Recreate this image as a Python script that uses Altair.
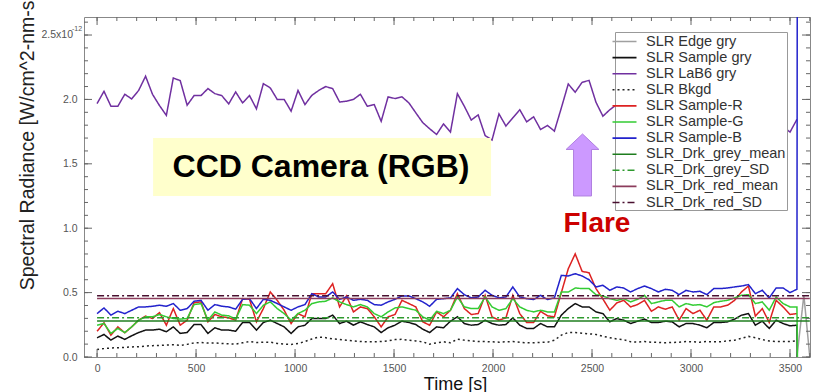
import altair as alt
import pandas as pd

# ---------------- data ----------------
T_STEP = 35
times = [T_STEP * k for k in range(102)]

lab6 = [1.968, 2.063, 1.947, 1.947, 2.04, 2.004, 2.07, 2.18, 2.04, 1.953,
        1.876, 2.166, 2.146, 1.955, 2.03, 2.03, 2.084, 2.045, 2.03, 1.965,
        2.058, 1.973, 2.03, 1.927, 2.123, 2.089, 2.0, 2.0, 1.909, 2.07,
        1.96, 2.032, 2.07, 2.10, 2.084, 1.98, 1.986, 2.0, 2.04, 1.947,
        1.96, 1.83, 2.02, 2.007, 2.02, 1.973, 1.896, 1.82, 1.772, 1.728,
        1.81, 1.746,
        2.045, 1.947, 1.84, 1.88, 1.72, 1.685, 1.888, 1.793, 1.857, 1.92,
        1.826, 1.865, 1.767, 1.798, 1.754, 1.934, 2.12, 2.056, 2.133, 2.148,
        1.978, 1.87, 1.92,
        1.96, 1.98, 2.0, 1.96, 1.93, 1.99, 2.02, 1.97, 1.94, 1.98,
        2.01, 1.96, 1.92, 1.95, 1.99, 1.97, 1.93, 1.9, 1.94, 1.97,
        1.92, 1.88, 1.85, 1.82, 1.79,
        1.746, 1.845]

sample_b = [0.337, 0.381, 0.325, 0.355, 0.337, 0.363, 0.389, 0.389, 0.394, 0.402,
            0.394, 0.415, 0.363, 0.376, 0.433, 0.44, 0.363, 0.407, 0.394, 0.389,
            0.371, 0.448, 0.453, 0.376, 0.448,
            0.44, 0.415, 0.389, 0.363, 0.389, 0.407, 0.492, 0.466, 0.466, 0.505,
            0.448, 0.466, 0.44, 0.448, 0.44, 0.407, 0.402, 0.428, 0.448, 0.474,
            0.474, 0.453, 0.428, 0.394, 0.448, 0.453,
            0.459, 0.531, 0.484, 0.459, 0.466, 0.518, 0.479, 0.459, 0.466, 0.544,
            0.466, 0.453, 0.446, 0.479, 0.446, 0.459, 0.634, 0.629, 0.647, 0.629,
            0.6, 0.544, 0.557, 0.518, 0.544,
            0.536, 0.505, 0.531, 0.551, 0.531, 0.505, 0.526, 0.518, 0.484, 0.518,
            0.505, 0.51, 0.484, 0.531, 0.531, 0.536, 0.544, 0.551, 0.562, 0.492,
            0.518, 0.459, 0.536, 0.536, 0.5, 0.526]

sample_r = [0.2, 0.265, 0.17, 0.234, 0.188, 0.234, 0.286, 0.317, 0.299, 0.345,
            0.247, 0.376, 0.247, 0.286, 0.422, 0.428, 0.273, 0.33, 0.312, 0.304,
            0.286, 0.453, 0.448, 0.273, 0.376,
            0.505, 0.44, 0.363, 0.26, 0.337, 0.312, 0.492, 0.492, 0.492, 0.569,
            0.389, 0.474, 0.35, 0.389, 0.376, 0.312, 0.234, 0.312, 0.33, 0.44,
            0.415, 0.389, 0.273, 0.247, 0.35, 0.312,
            0.363, 0.492, 0.376, 0.33, 0.337, 0.479, 0.312, 0.286, 0.304, 0.479,
            0.337, 0.268, 0.268, 0.355, 0.32, 0.312, 0.5, 0.685, 0.801, 0.665,
            0.654, 0.531, 0.45, 0.363, 0.42,
            0.44, 0.389, 0.407, 0.44, 0.355, 0.389, 0.371, 0.389, 0.286, 0.376,
            0.337, 0.363, 0.286, 0.389, 0.389, 0.402, 0.44, 0.505, 0.551, 0.317,
            0.376, 0.268, 0.44, 0.389, 0.33, 0.337]

sample_g = [0.247, 0.26, 0.183, 0.222, 0.19, 0.234, 0.286, 0.312, 0.312, 0.33,
            0.312, 0.299, 0.294, 0.299, 0.407, 0.415, 0.286, 0.35, 0.325, 0.32,
            0.294, 0.407, 0.402, 0.337, 0.402,
            0.428, 0.376, 0.337, 0.286, 0.337, 0.363, 0.415, 0.428, 0.433, 0.459,
            0.428, 0.407, 0.389, 0.407, 0.389, 0.337, 0.312, 0.35, 0.381, 0.389,
            0.376, 0.363, 0.312, 0.286, 0.355, 0.337,
            0.363, 0.466, 0.389, 0.376, 0.376, 0.466, 0.389, 0.363, 0.376, 0.453,
            0.389, 0.363, 0.35, 0.363, 0.35, 0.35, 0.505, 0.505, 0.536, 0.531,
            0.531, 0.484, 0.474, 0.453, 0.44,
            0.453, 0.428, 0.448, 0.479, 0.415, 0.428, 0.44, 0.44, 0.389, 0.415,
            0.402, 0.407, 0.389, 0.422, 0.433, 0.44, 0.459, 0.479, 0.484, 0.415,
            0.428, 0.363, 0.466, 0.415, 0.389, 0.389]

sample_gry = [0.149, 0.175, 0.131, 0.162, 0.137, 0.165, 0.19, 0.209, 0.209, 0.216,
              0.196, 0.234, 0.183, 0.19, 0.252, 0.252, 0.183, 0.227, 0.209, 0.209,
              0.2, 0.268, 0.268, 0.209, 0.268,
              0.286, 0.26, 0.234, 0.183, 0.234, 0.247, 0.299, 0.299, 0.299, 0.325,
              0.26, 0.278, 0.247, 0.273, 0.252, 0.234, 0.19, 0.227, 0.247, 0.278,
              0.268, 0.252, 0.216, 0.19, 0.234, 0.227,
              0.278, 0.312, 0.26, 0.247, 0.252, 0.286, 0.26, 0.247, 0.252, 0.304,
              0.247, 0.222, 0.222, 0.26, 0.234, 0.234, 0.325, 0.376, 0.415, 0.389,
              0.389, 0.35, 0.337, 0.273, 0.299,
              0.286, 0.26, 0.278, 0.294, 0.268, 0.268, 0.278, 0.273, 0.234, 0.26,
              0.26, 0.247, 0.227, 0.268, 0.268, 0.273, 0.294, 0.325, 0.337, 0.247,
              0.278, 0.222, 0.286, 0.26, 0.242, 0.247]

bkgd = [0.059, 0.065, 0.07, 0.072, 0.075, 0.078, 0.08, 0.085, 0.088, 0.09,
        0.093, 0.095, 0.09, 0.098, 0.11, 0.112, 0.108, 0.11, 0.105, 0.103,
        0.1, 0.11, 0.12, 0.112, 0.115,
        0.115, 0.105, 0.1, 0.098, 0.105, 0.12, 0.14, 0.155, 0.15, 0.14,
        0.137, 0.13, 0.125, 0.12, 0.118, 0.118, 0.12, 0.125, 0.135, 0.137,
        0.13, 0.125, 0.118, 0.1, 0.11, 0.118,
        0.11, 0.139, 0.131, 0.125, 0.12, 0.12, 0.118, 0.115, 0.118, 0.12,
        0.115, 0.11, 0.11, 0.113, 0.115, 0.13, 0.17, 0.19, 0.19, 0.185,
        0.18, 0.175, 0.16, 0.15, 0.14,
        0.135, 0.118, 0.115, 0.12, 0.115, 0.113, 0.11, 0.113, 0.115, 0.12,
        0.118, 0.115, 0.12, 0.118, 0.118, 0.125, 0.13, 0.145, 0.16, 0.15,
        0.135, 0.125, 0.12, 0.12, 0.12, 0.125]

# last readings (off scale) at the end of the run
end_t = 3570
sample_b_end = 50.0
sample_g_end = -5.0
sample_gry_end = -5.0

edge_t = [3535, 3570, 3600]
edge_v = [0.0, 0.48, 0.0]

const_t = [0, 3600]
drk_grey_mean = 0.28
drk_grey_sd = 0.305
drk_red_mean = 0.455
drk_red_sd = 0.475

names = ["SLR Edge gry", "SLR Sample gry", "SLR LaB6 gry", "SLR Bkgd",
         "SLR Sample-R", "SLR Sample-G", "SLR Sample-B",
         "SLR_Drk_grey_mean", "SLR_Drk_grey_SD", "SLR_Drk_red_mean", "SLR_Drk_red_SD"]
colors = ["#a0a0a0", "#111111", "#7030a0", "#222222",
          "#dd2222", "#33cc33", "#2222cc",
          "#1e7d1e", "#2e9a2e", "#8c3c5c", "#4a1030"]
dashes = [[1, 0], [1, 0], [1, 0], [2, 3],
          [1, 0], [1, 0], [1, 0],
          [1, 0], [7, 3, 2, 3], [1, 0], [7, 3, 2, 3]]

x_major = [0, 500, 1000, 1500, 2000, 2500, 3000, 3500]
x_minor = list(range(0, 3601, 100))
y_major = [0.0, 0.5, 1.0, 1.5, 2.0, 2.5]
y_minor = [round(0.1 * i, 1) for i in range(0, 27)]

for s in (lab6, sample_b, sample_r, sample_g, sample_gry, bkgd):
    assert len(s) == len(times), len(s)

# ---------------- long table ----------------
rows = []
def add(name, ts, vs):
    for i, (t, v) in enumerate(zip(ts, vs)):
        rows.append({"series": name, "t": t, "v": v, "i": i})

add("SLR Edge gry", edge_t, edge_v)
add("SLR Sample gry", times + [end_t], sample_gry + [sample_gry_end])
add("SLR LaB6 gry", times, lab6)
add("SLR Bkgd", times, bkgd)
add("SLR Sample-R", times, sample_r)
add("SLR Sample-G", times + [end_t], sample_g + [sample_g_end])
add("SLR Sample-B", times + [end_t], sample_b + [sample_b_end])
add("SLR_Drk_grey_mean", const_t, [drk_grey_mean] * 2)
add("SLR_Drk_grey_SD", const_t, [drk_grey_sd] * 2)
add("SLR_Drk_red_mean", const_t, [drk_red_mean] * 2)
add("SLR_Drk_red_SD", const_t, [drk_red_sd] * 2)
df = pd.DataFrame(rows)

FONT = "Liberation Sans"
W, H = 726, 340

xscale = alt.Scale(domain=[-66, 3601], nice=False, zero=False)
yscale = alt.Scale(domain=[0, 2.64], nice=False, zero=False)

legend = alt.Legend(orient="none", legendX=531, legendY=15,
                    symbolType="M-1.6,0 L1.6,0",
                    symbolSize=225, symbolStrokeWidth=1.6, labelFont=FONT,
                    labelFontSize=14.5, labelColor="#333333", labelLimit=300,
                    labelOffset=13, rowPadding=1.1, padding=1, fillColor="white",
                    strokeColor="#999999")

lines = alt.Chart(df).mark_line(clip=True, strokeWidth=1.5).encode(
    x=alt.X("t:Q", scale=xscale,
            axis=alt.Axis(values=x_major, format="d", ticks=False, tickSize=0,
                          domain=False, grid=False, labelFont=FONT,
                          labelFontSize=10.5, labelColor="#555555", labelPadding=6,
                          title="Time [s]", titleFont=FONT, titleFontSize=18,
                          titleFontWeight="normal", titleColor="#111111",
                          titleX=371, titleY=32, titleBaseline="alphabetic")),
    y=alt.Y("v:Q", scale=yscale,
            axis=alt.Axis(values=y_major, ticks=False, tickSize=0, domain=False,
                          grid=False, labelFont=FONT, labelFontSize=10.5,
                          labelColor="#555555", labelPadding=7,
                          labelExpr="datum.value == 2.5 ? '' : format(datum.value, '.1f')",
                          title="Spectral Radiance [W/cm^2-nm-s", titleFont=FONT,
                          titleFontSize=19.5, titleFontWeight="normal",
                          titleColor="#222222", titleAngle=270, titleAlign="right",
                          titleBaseline="middle", titleX=-57, titleY=-17)),
    color=alt.Color("series:N", title=None,
                    scale=alt.Scale(domain=names, range=colors), legend=legend),
    strokeDash=alt.StrokeDash("series:N", title=None,
                              scale=alt.Scale(domain=names, range=dashes), legend=legend),
    order="i:Q",
)

# ---------------- ticks (inward, on all four sides) ----------------
xt_minor = pd.DataFrame({"t": x_minor})
xt_major = pd.DataFrame({"t": x_major})
yt_minor = pd.DataFrame({"v": y_minor})
yt_major = pd.DataFrame({"v": y_major})
TICK = "#666666"

def xticks(d, length):
    bot = alt.Chart(d).mark_rule(color=TICK, strokeWidth=1).encode(
        x="t:Q", y=alt.value(H), y2=alt.value(H - length))
    top = alt.Chart(d).mark_rule(color=TICK, strokeWidth=1).encode(
        x="t:Q", y=alt.value(0), y2=alt.value(length))
    return bot + top

def yticks(d, length):
    left = alt.Chart(d).mark_rule(color=TICK, strokeWidth=1).encode(
        y="v:Q", x=alt.value(0), x2=alt.value(length))
    right = alt.Chart(d).mark_rule(color=TICK, strokeWidth=1).encode(
        y="v:Q", x=alt.value(W), x2=alt.value(W - length))
    return left + right

ticks = xticks(xt_minor, 4) + xticks(xt_major, 8) + yticks(yt_minor, 4) + yticks(yt_major, 8)

# ---------------- y label with exponent ----------------
exp_df = pd.DataFrame({"v": [2.5], "base": ["2.5x10"], "exp": ["-12"]})
exp_base = alt.Chart(exp_df).mark_text(align="right", baseline="middle", font=FONT,
                                       fontSize=10.5, color="#555555").encode(
    y="v:Q", x=alt.value(-11), text="base:N")
exp_sup = alt.Chart(exp_df).mark_text(align="left", baseline="middle", font=FONT,
                                      fontSize=7, color="#555555", dy=-6).encode(
    y="v:Q", x=alt.value(-12), text="exp:N")

# ---------------- annotations ----------------
box_df = pd.DataFrame({"t": [283], "t2": [1990], "v": [1.70], "v2": [1.25]})
box = alt.Chart(box_df).mark_rect(color="#ffffcc").encode(
    x="t:Q", x2="t2:Q", y="v:Q", y2="v2:Q")

label_df = pd.DataFrame({"t": [1131], "v": [1.475], "txt": ["CCD Camera (RGB)"]})
label = alt.Chart(label_df).mark_text(font=FONT, fontSize=32, fontWeight="bold",
                                      color="#000000", baseline="middle").encode(
    x="t:Q", y="v:Q", text="txt:N")

arrow_path = "M0,-1 L0.53,-0.5 L0.29,-0.5 L0.29,1 L-0.29,1 L-0.29,-0.5 L-0.53,-0.5 Z"
arrow_df = pd.DataFrame({"t": [2452], "v": [1.491]})
arrow = alt.Chart(arrow_df).mark_point(shape=arrow_path, size=3844, filled=True,
                                       fill="#cc99ff", stroke="#b080e0",
                                       strokeWidth=1, opacity=1).encode(
    x="t:Q", y="v:Q")

flare_df = pd.DataFrame({"t": [2525], "v": [0.97], "txt": ["Flare"]})
flare = alt.Chart(flare_df).mark_text(font=FONT, fontSize=28, fontWeight="bold",
                                      color="#cc0000", baseline="alphabetic").encode(
    x="t:Q", y="v:Q", text="txt:N")

chart = alt.layer(
    lines, ticks, exp_base, exp_sup, box, label, arrow, flare
).properties(
    width=W, height=H,
    autosize=alt.AutoSizeParams(type="none"),
    padding={"left": 84, "top": 17, "right": 9, "bottom": 35},
    background="white",
).configure_view(stroke="#888888", strokeWidth=1)

chart.save("out.html", embed_options={"renderer": "svg", "actions": False})
